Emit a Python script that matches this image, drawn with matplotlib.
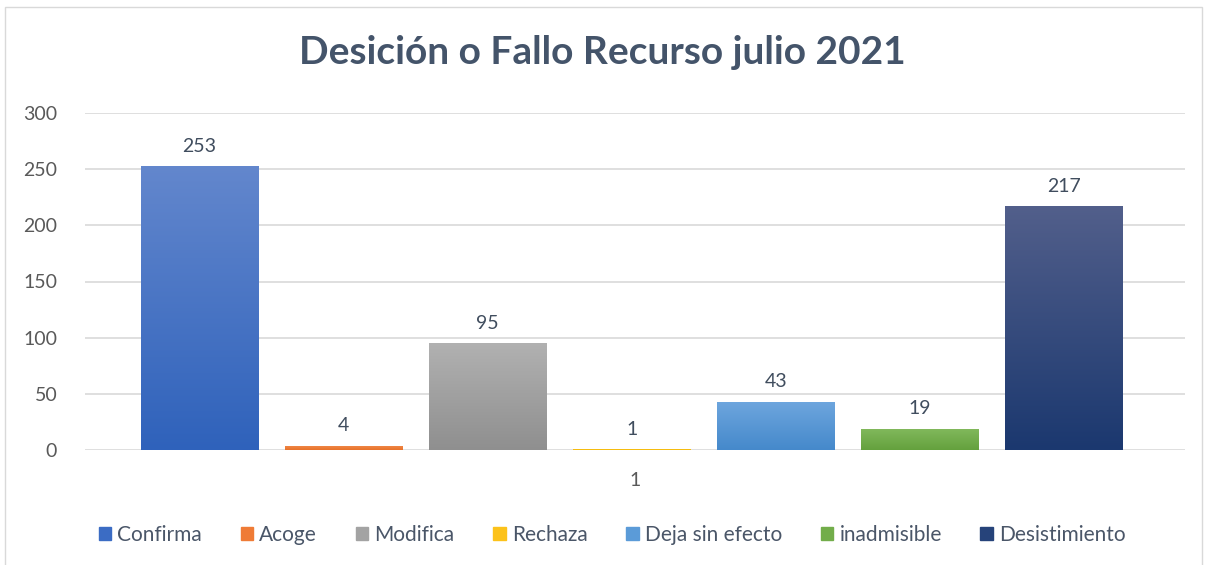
import matplotlib
import matplotlib.pyplot as plt
import numpy as np
from matplotlib.colors import LinearSegmentedColormap
from matplotlib.patches import Rectangle

matplotlib.use("Agg")

# Data
categories = ["Confirma", "Acoge", "Modifica", "Rechaza", "Deja sin efecto", "inadmisible", "Desistimiento"]
values = [253, 4, 95, 1, 43, 19, 217]
category_label = "1"
title = "Desición o Fallo Recurso julio 2021"

# gradient (top, bottom) per bar
top_colors = ["#6387cd", "#f08a4b", "#b1b1b1", "#ffcd3a", "#6ea6de", "#82b95d", "#525f8b"]
bottom_colors = ["#2f62bb", "#e8722a", "#8f8f8f", "#f2b600", "#4589cb", "#64a13d", "#1b386f"]
legend_colors = ["#3b6cc4", "#ef7b36", "#a3a3a3", "#fcc21a", "#5b9bd8", "#72ad4a", "#26437a"]

plt.rcParams["font.family"] = ["Lato", "DejaVu Sans"]

fig = plt.figure(figsize=(12.05, 5.65), dpi=100)
fig.patches.append(Rectangle((5 / 1205, -0.1), 1197 / 1205, 1.1 - 7 / 565,
                             transform=fig.transFigure, fill=False,
                             edgecolor="#d9d9d9", linewidth=1))

ax = fig.add_axes([85 / 1205, 1 - 450 / 565, 1100 / 1205, 337 / 565])

width = 117 / 144
x = np.arange(len(values))
for i, v in enumerate(values):
    cmap = LinearSegmentedColormap.from_list("g%d" % i, [bottom_colors[i], top_colors[i]])
    left = x[i] - width / 2
    bar = ax.bar(x[i], v, width=width, color="none", edgecolor="none", zorder=3)[0]
    grad = np.linspace(0, 1, 256).reshape(-1, 1)
    im = ax.imshow(grad, extent=[left, left + width, 0, v], origin="lower",
                   cmap=cmap, aspect="auto", zorder=3)
    im.set_clip_path(bar)
    ax.text(x[i], v + 10, str(v), ha="center", va="bottom",
            fontsize=14, color="#404d5e", zorder=4)

ax.set_xlim(-0.795, 6.84)
ax.set_ylim(0, 300)
ax.set_yticks(np.arange(0, 301, 50))
ax.tick_params(axis="y", length=0, labelsize=14, labelcolor="#595959", pad=20)
ax.set_xticks([])
ax.grid(axis="y", color="#d9d9d9", linewidth=1.2, zorder=0)
ax.set_axisbelow(True)
for s in ax.spines.values():
    s.set_visible(False)

ax.text(0.5, -0.065, category_label, transform=ax.transAxes, ha="center", va="top",
        fontsize=14, color="#595959")

fig.text(0.5, 1 - 52 / 565, title, ha="center", va="center",
         fontsize=28, fontweight="bold", color="#44546a")

handles = [Rectangle((0, 0), 1, 1, color=c) for c in legend_colors]
fig.legend(handles, categories, loc="center", bbox_to_anchor=(0.508, 1 - 535 / 565),
           ncol=7, frameon=False, fontsize=15, labelcolor="#4a5668",
           handlelength=0.6, handleheight=0.6, handletextpad=0.3, columnspacing=1.85)

fig.savefig("out.png", dpi=100)
